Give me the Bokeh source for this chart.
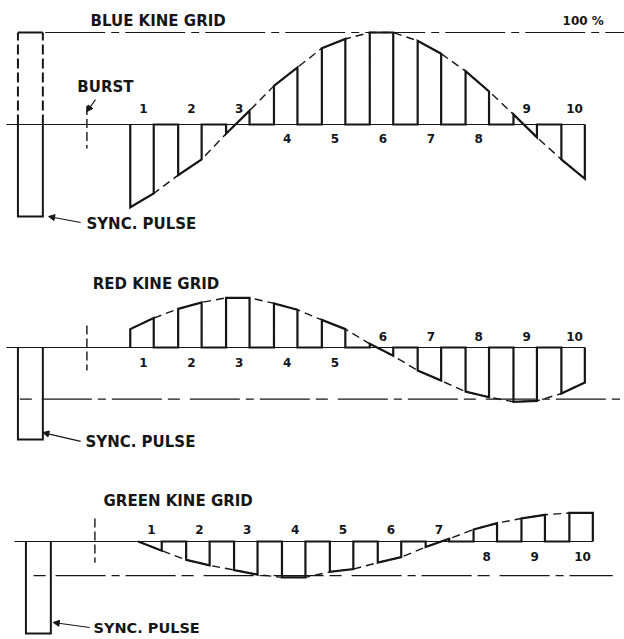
from bokeh.plotting import figure
from bokeh.layouts import column
from bokeh.models import Arrow, NormalHead, Range1d
from bokeh.core.properties import value
from bokeh.embed import file_html
from bokeh.resources import INLINE

# ---------------- data (signal level in % of full swing) ----------------
bar_numbers = [1, 2, 3, 4, 5, 6, 7, 8, 9, 10]
bar_labels = ["1", "2", "3", "4", "5", "6", "7", "8", "9", "10"]

blue_left = [-90, -55, -10, 42, 83, 100, 91, 58, 11, -38]
blue_right = [-75, -38, 15, 62, 93, 100, 77, 36, -14, -59]
blue_label_side = [1, 1, 1, -1, -1, -1, -1, -1, 1, 1]

red_left = [20, 42, 54, 48, 30, 4, -25, -48, -59, -50]
red_right = [32, 49, 54, 41, 20, -9, -36, -54, -58, -38]
red_label_side = [-1, -1, -1, -1, -1, 1, 1, 1, 1, 1]

green_left = [0, -20, -31, -39, -33, -23, -6, 13, 25, 31]
green_right = [-10, -26, -36, -39, -30, -17, 3, 20, 29, 31]
green_label_side = [1, 1, 1, 1, 1, 1, 1, -1, -1, -1]

sync_level = -100
full_level = 100
red_ref_level = -56
green_ref_level = -37

titles = ["BLUE KINE GRID", "RED KINE GRID", "GREEN KINE GRID"]

# ---------------- styling ----------------
INK = "#161616"
FONT = value("DejaVu Sans")
HALF_W = 0.245
SYNC_X0, SYNC_X1 = -1.59, -1.07
BURST_X = -0.15


def make_panel(h, x_lo, x_hi, y_lo, y_hi):
    p = figure(width=624, height=h, x_range=Range1d(x_lo, x_hi),
               y_range=Range1d(y_lo, y_hi), output_backend="svg",
               toolbar_location=None, min_border=0,
               x_axis_location=None, y_axis_location=None)
    p.grid.visible = False
    p.outline_line_color = None
    p.background_fill_color = "white"
    p.border_fill_color = "white"
    return p


def draw_panel(p, left, right, sides, label_up, label_down, base_end):
    # thin baseline
    p.line([-1.83, base_end], [0, 0], line_color=INK, line_width=1.1)
    # sampled signal path
    xs, ys = [], []
    ex, ey = [], []
    for n, l, r in zip(bar_numbers, left, right):
        x0, x1 = n - HALF_W, n + HALF_W
        xs += [x0, x0, x1, x1]
        ys += [0, l, r, 0]
        ex += [x0, x1]
        ey += [l, r]
    p.line(ex, ey, line_color=INK, line_width=1.4, line_dash="8 5")
    p.line(xs, ys, line_color=INK, line_width=2.2, line_join="miter")
    # sync pulse
    p.line([SYNC_X0, SYNC_X0, SYNC_X1, SYNC_X1], [0, sync_level, sync_level, 0],
           line_color=INK, line_width=2, line_join="miter")
    # bar numbers
    lx = [n + 0.03 for n in bar_numbers]
    ly = [label_up if s > 0 else label_down for s in sides]
    p.text(lx, ly, text=bar_labels, text_font=FONT, text_font_style="bold",
           text_font_size="12px", text_align="center", text_baseline="middle",
           text_color=INK)


def label(p, x, y, t, size="15px"):
    p.text([x], [y], text=[t], text_font=FONT, text_font_style="bold",
           text_font_size=size, text_align="left", text_baseline="middle",
           text_color=INK)


def arrow(p, xs, ys, xe, ye):
    p.add_layout(Arrow(end=NormalHead(size=6, fill_color=INK, line_color=INK),
                       x_start=xs, y_start=ys, x_end=xe, y_end=ye,
                       line_color=INK, line_width=1.1))


# ---------------- BLUE ----------------
pb = make_panel(240, -1.954, 11.073, -126.1, 134.8)
draw_panel(pb, blue_left, blue_right, blue_label_side, 17, -15, 10.245)
pb.segment([SYNC_X0, SYNC_X1], [0, 0], [SYNC_X0, SYNC_X1], [full_level, full_level],
           line_color=INK, line_width=2, line_dash="10 4")
pb.line([SYNC_X0, SYNC_X1], [full_level, full_level], line_color=INK, line_width=2)
pb.line([-1.02, 11.2], [full_level, full_level], line_color=INK, line_width=1.2,
        line_dash="60 6 8 6")
pb.segment([BURST_X], [20], [BURST_X], [-26], line_color=INK, line_width=1.4,
           line_dash="9 4")
label(pb, -0.075, 113, titles[0])
label(pb, 9.78, 113, "100 %", "12px")
label(pb, -0.35, 41, "BURST")
arrow(pb, 0.03, 27, BURST_X, 14)
label(pb, -0.16, -108.5, "SYNC. PULSE")
arrow(pb, -0.28, -106.5, -0.95, -100)

# ---------------- RED ----------------
pr = make_panel(220, -1.954, 11.073, -122.8, 116.3)
draw_panel(pr, red_left, red_right, red_label_side, 12, -16.3, 10.245)
pr.line([-1.55, 10.98], [red_ref_level, red_ref_level], line_color=INK,
        line_width=1.2, line_dash="12 10 50 6 8 6 50 6")
pr.segment([BURST_X], [24], [BURST_X], [-25], line_color=INK, line_width=1.4,
           line_dash="9 4")
label(pr, -0.03, 68.5, titles[1])
label(pr, -0.18, -103, "SYNC. PULSE")
arrow(pr, -0.28, -102, -1.07, -92.5)

# ---------------- GREEN ----------------
pg = make_panel(179, -2.121, 10.906, -106.5, 88.0)
draw_panel(pg, green_left, green_right, green_label_side, 13.5, -16, 10.245)
pg.line([-1.43, 10.66], [green_ref_level, green_ref_level], line_color=INK,
        line_width=1.2, line_dash="12 10 50 6 8 6 50 6")
pg.segment([BURST_X], [25], [BURST_X], [-23], line_color=INK, line_width=1.4,
           line_dash="9 4")
label(pg, 0.03, 43.5, titles[2])
label(pg, -0.18, -94.5, "SYNC. PULSE", "14.5px")
arrow(pg, -0.26, -93.5, -1.02, -88)

layout = column(pb, pr, pg, spacing=0)
open("out.html", "w").write(file_html(layout, INLINE))
